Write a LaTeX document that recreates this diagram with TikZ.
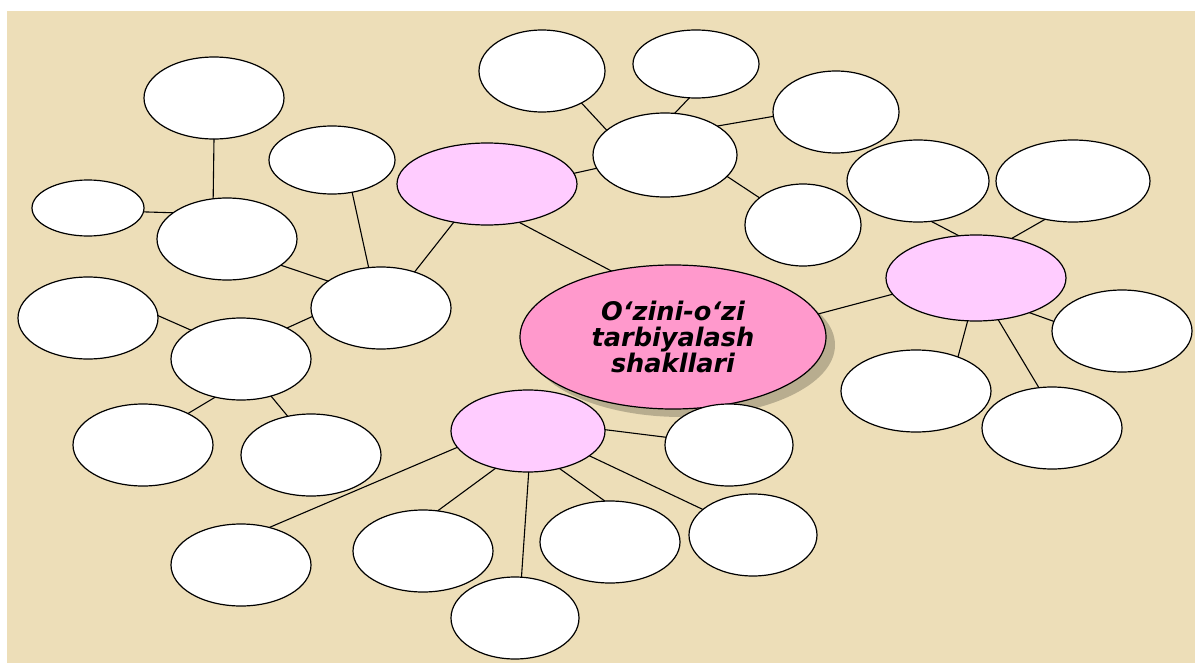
\documentclass[tikz,border=0pt]{standalone}
\usepackage{fontspec}
\newfontfamily\vfont{DejaVu Sans}
\usetikzlibrary{shapes.geometric,shadows}
\definecolor{bgtan}{RGB}{237,222,184}
\definecolor{plpink}{RGB}{255,204,255}
\definecolor{cpink}{RGB}{255,153,204}
\tikzset{
  ell/.style={ellipse, draw=black, line width=0.6pt, inner sep=0pt, outer sep=0pt},
  wb/.style 2 args={ell, fill=white, minimum width=#1pt, minimum height=#2pt},
  pb/.style 2 args={ell, fill=plpink, minimum width=#1pt, minimum height=#2pt},
  conn/.style={draw=black, line width=0.55pt},
}
\begin{document}
\begin{tikzpicture}[x=0.5pt,y=-0.5pt]
\useasboundingbox (0,0) rectangle (1195,664);
\fill[bgtan] (7,11) rectangle (1195,663);
% centre
\node[ell, fill=cpink, minimum width=153pt, minimum height=72pt,
  drop shadow={shadow xshift=4.5pt, shadow yshift=-4pt, opacity=0.22, fill=black},
  font=\vfont\bfseries\itshape\fontsize{12.8}{13}\selectfont, align=center]
  (C) at (673,337) {O‘zini-o‘zi\\tarbiyalash\\shakllari};
% left cluster
\node[wb={70}{41}] (L1) at (214,98) {};
\node[wb={56}{28}] (L2) at (88,208) {};
\node[wb={70}{41}] (L3) at (227,239) {};
\node[wb={63}{34}] (L4) at (332,160) {};
\node[wb={70}{41}] (L5) at (381,308) {};
\node[wb={70}{41}] (L6) at (88,318) {};
\node[wb={70}{41}] (L7) at (241,359) {};
\node[wb={70}{41}] (L8) at (143,445) {};
\node[wb={70}{41}] (L9) at (311,455) {};
% top cluster
\node[pb={90}{41}] (PT) at (487,184) {};
\node[wb={63}{41}] (T10) at (542,71) {};
\node[wb={63}{34}] (T11) at (696,64) {};
\node[wb={72}{42}] (H12) at (665,155) {};
\node[wb={63}{41}] (T13) at (836,112) {};
\node[wb={58}{41}] (T14) at (803,225) {};
% right cluster
\node[pb={90}{43}] (PR) at (976,278) {};
\node[wb={71}{41}] (R15) at (918,181) {};
\node[wb={77}{41}] (R16) at (1073,181) {};
\node[wb={70}{41}] (R17) at (1122,331) {};
\node[wb={75}{41}] (R18) at (916,391) {};
\node[wb={70}{41}] (R19) at (1052,428) {};
% bottom cluster
\node[pb={77}{41}] (PB) at (528,431) {};
\node[wb={64}{41}] (B20) at (729,445) {};
\node[wb={64}{41}] (B21) at (753,535) {};
\node[wb={70}{41}] (B22) at (610,542) {};
\node[wb={70}{41}] (B23) at (423,551) {};
\node[wb={64}{41}] (B24) at (515,618) {};
\node[wb={70}{41}] (B25) at (241,565) {};
% connectors
\draw[conn] (L1.-90) -- (L3.109);
\draw[conn] (L2.-4) -- (L3.154);
\draw[conn] (L3.-26) -- (L5.153);
\draw[conn] (L4.-58) -- (L5.107);
\draw[conn] (L5.47) -- (PT.-131);
\draw[conn] (PT.-50) -- (C.133);
\draw[conn] (PT.7) -- (H12.191);
\draw[conn] (L6.2) -- (L7.150);
\draw[conn] (L7.34) -- (L5.187);
\draw[conn] (L7.-124) -- (L8.35);
\draw[conn] (L7.-51) -- (L9.121);
\draw[conn] (T10.-39) -- (H12.157);
\draw[conn] (T11.-101) -- (H12.77);
\draw[conn] (T13.184) -- (H12.29);
\draw[conn] (H12.-19) -- (T14.148);
\draw[conn] (C.9) -- (PR.191);
\draw[conn] (R15.-72) -- (PR.112);
\draw[conn] (R16.-126) -- (PR.48);
\draw[conn] (PR.-33) -- (R17.172);
\draw[conn] (PR.-101) -- (R18.39);
\draw[conn] (PR.-62) -- (R19.108);
\draw[conn] (PB.1) -- (B20.173);
\draw[conn] (PB.-22) -- (B21.153);
\draw[conn] (PB.-50) -- (B22.97);
\draw[conn] (PB.-131) -- (B23.70);
\draw[conn] (PB.-89) -- (B24.81);
\draw[conn] (PB.193) -- (B25.53);
\end{tikzpicture}
\end{document}
